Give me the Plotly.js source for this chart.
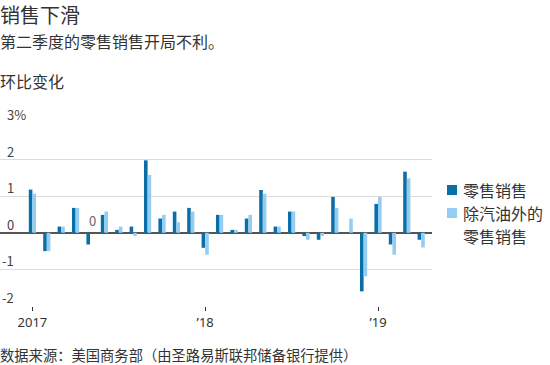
<!DOCTYPE html>
<html>
<head>
<meta charset="utf-8">
<script src="https://cdn.plot.ly/plotly-3.0.1.min.js"></script>
<style>html,body{margin:0;padding:0;background:#fff;}#chart{width:550px;height:365px;}</style>
</head>
<body>
<div id="chart"></div>
<script>
// Months Jan 2017 .. Apr 2019 (index 0..27)
var monthIndex = [0,1,2,3,4,5,6,7,8,9,10,11,12,13,14,15,16,17,18,19,20,21,22,23,24,25,26,27];
var retailSales = [1.18,-0.5,0.17,0.68,-0.32,0.49,0.08,0.17,1.98,0.39,0.58,0.68,
                   -0.41,0.49,0.08,0.39,1.17,0.17,0.58,-0.09,-0.19,0.98,0,-1.6,
                   0.79,-0.32,1.67,-0.19];
var exGasSales = [1.07,-0.5,0.17,0.68,0,0.58,0.17,-0.09,1.58,0.49,0.29,0.58,
                  -0.6,0.49,0.08,0.49,1.07,0.17,0.58,-0.19,-0.09,0.68,0.39,-1.19,
                  0.98,-0.6,1.49,-0.4];
var seriesNames = ['零售销售', '除汽油外的<br>零售销售'];
var seriesColors = ['#0a6fa8', '#93cef2'];
var xTickVals = [0, 12, 24];
var xTickText = ['2017', '\u201918', '\u201919'];
var yTickVals = [3, 2, 1, 0, -1, -2];
var yTickText = ['3%', '2', '1', '0', '-1', '-2'];

var FONT = '"Noto Sans CJK SC", "Noto Sans", sans-serif';
var LATIN = '"Noto Sans", "Open Sans", sans-serif';
var W = 550, H = 365;
var plotLeft = 0, plotRight = 432, plotTop = 123, plotBottom = 306;
function py(p){ return (plotBottom - p) / (plotBottom - plotTop); }
function px(p){ return (p - plotLeft) / (plotRight - plotLeft); }

var traces = [
  {type:'bar', x: monthIndex, y: retailSales, name: seriesNames[0].replace('<br>',''), marker:{color:seriesColors[0]}, showlegend:false},
  {type:'bar', x: monthIndex, y: exGasSales, name: seriesNames[1].replace('<br>',''), marker:{color:seriesColors[1]}, showlegend:false}
];

var annotations = [];
yTickVals.forEach(function(v, i){
  var t = yTickText[i];
  annotations.push({xref:'paper', yref:'y', x:0, y:v, text:t, showarrow:false,
    xanchor:'left', yanchor:'bottom', xshift: (t.charAt(0)==='-') ? 0 : 5, yshift:-3,
    font:{family:FONT, size:13, color:'#444'}});
});
// zero label on May 2017 ex-gas bar
annotations.push({xref:'x', yref:'y', x:4, y:0, text:'0', showarrow:false, xshift:2,
  yanchor:'bottom', yshift:1, font:{family:FONT, size:13, color:'#666'}});
// titles
annotations.push({xref:'paper', yref:'paper', x:0, y:py(14), xshift:-2, text:'销售下滑', showarrow:false,
  xanchor:'left', yanchor:'middle', font:{family:FONT, size:20, color:'#333'}});
annotations.push({xref:'paper', yref:'paper', x:0, y:py(41), xshift:-2, text:'第二季度的零售销售开局不利。', showarrow:false,
  xanchor:'left', yanchor:'middle', font:{family:FONT, size:16, color:'#333'}});
annotations.push({xref:'paper', yref:'paper', x:0, y:py(81), xshift:-2, text:'环比变化', showarrow:false,
  xanchor:'left', yanchor:'middle', font:{family:FONT, size:16, color:'#333'}});
annotations.push({xref:'paper', yref:'paper', x:0, y:py(354), xshift:-2, text:'数据来源：美国商务部（由圣路易斯联邦储备银行提供）', showarrow:false,
  xanchor:'left', yanchor:'middle', font:{family:FONT, size:14.3, color:'#333'}});

// manual legend
var legendCenters = [190, 213];
var lineStep = 23;
var shapes = [];
seriesNames.forEach(function(n, i){
  var c = legendCenters[i];
  shapes.push({type:'rect', xref:'paper', yref:'paper', x0:px(447), x1:px(457),
    y0:py(c-5), y1:py(c+5), fillcolor:seriesColors[i], line:{width:0}});
  n.split('<br>').forEach(function(line, j){
    annotations.push({xref:'paper', yref:'paper', x:px(461), y:py(c + j*lineStep), text:line, showarrow:false,
      xanchor:'left', yanchor:'middle', align:'left', font:{family:FONT, size:16, color:'#333'}});
  });
});

var layout = {
  width:W, height:H,
  margin:{l:plotLeft, r:W-plotRight, t:plotTop, b:H-plotBottom, pad:0, autoexpand:false},
  paper_bgcolor:'#fff', plot_bgcolor:'#fff',
  barmode:'group', bargap:0.5, bargroupgap:0,
  font:{family:FONT, color:'#333'},
  xaxis:{range:[-2.25, 27.75], tickvals:xTickVals, ticktext:xTickText, ticks:'outside',
    ticklen:4, tickwidth:1, tickcolor:'#333', showgrid:false, zeroline:false, showline:false,
    tickfont:{family:LATIN, size:13, color:'#333'}, fixedrange:true, automargin:false},
  yaxis:{range:[-2, 3], tickvals:yTickVals, showticklabels:false, showgrid:true,
    gridcolor:'#dcdcdc', gridwidth:1, zeroline:true, zerolinecolor:'#555', zerolinewidth:1.5,
    showline:false, ticks:'', fixedrange:true, automargin:false},
  showlegend:false,
  shapes: shapes,
  annotations: annotations
};
Plotly.newPlot('chart', traces, layout, {displayModeBar:false, staticPlot:true});
</script>
</body>
</html>
